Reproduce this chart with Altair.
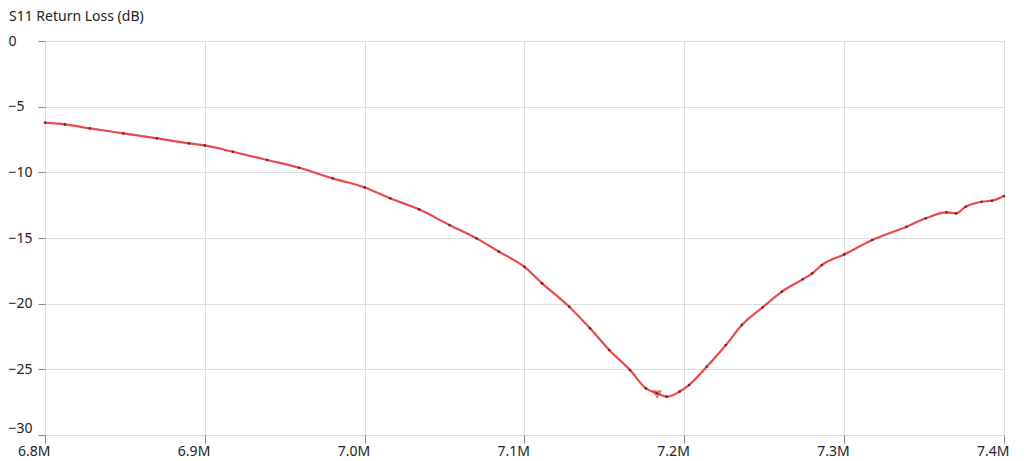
import altair as alt
import pandas as pd

# Frequency (MHz) and S11 return loss (dB)
freq_mhz = [6.800, 6.8125, 6.828, 6.849, 6.870, 6.890, 6.900, 6.9175, 6.939, 6.959,
            6.980, 7.000, 7.016, 7.034, 7.053, 7.070, 7.084, 7.100, 7.111, 7.128,
            7.141, 7.153, 7.166, 7.176, 7.183, 7.189, 7.197, 7.203, 7.214, 7.226,
            7.236, 7.249, 7.261, 7.274, 7.280, 7.286, 7.300, 7.3175, 7.339, 7.351,
            7.364, 7.370, 7.376, 7.386, 7.3925, 7.400]
s11_db = [-6.22, -6.35, -6.65, -7.03, -7.41, -7.79, -7.95, -8.43, -9.06, -9.65,
          -10.46, -11.15, -11.98, -12.82, -14.01, -15.03, -16.04, -17.20, -18.45, -20.23,
          -21.88, -23.53, -25.05, -26.45, -26.83, -27.08, -26.70, -26.19, -24.80, -23.15,
          -21.62, -20.28, -19.09, -18.15, -17.69, -17.06, -16.25, -15.15, -14.14, -13.50,
          -13.05, -13.12, -12.62, -12.24, -12.16, -11.80]

tick_freqs = [6.8, 6.9, 7.0, 7.1, 7.2, 7.3, 7.4]
tick_db = [0, -5, -10, -15, -20, -25, -30]

marker_freq = [7.183]
marker_db = [-26.9]

df = pd.DataFrame({"f": freq_mhz, "db": s11_db})
mk = pd.DataFrame({"f": marker_freq, "db": marker_db})

x = alt.X("f:Q",
          scale=alt.Scale(domain=[6.8, 7.4], nice=False, zero=False),
          axis=alt.Axis(values=tick_freqs, title=None,
                        labelExpr="format(datum.value, '.1f') + 'M'",
                        labelAlign="right", labelOffset=5, tickSize=8,
                        labelPadding=1, domain=False, grid=True,
                        labelFlush=False, labelOverlap=False,
                        labelFont="Noto Sans", labelFontSize=14,
                        labelColor="#222222"))
y = alt.Y("db:Q",
          scale=alt.Scale(domain=[-30, 0], nice=False, zero=False),
          axis=alt.Axis(values=tick_db, title=None, labelAlign="left",
                        labelPadding=30, tickSize=7, domain=False, grid=True,
                        labelBaseline={"condition": {"test": "datum.value == -30",
                                                     "value": "bottom"},
                                       "value": "middle"},
                        labelFlush=False,
                        labelOverlap=False, labelFont="Noto Sans",
                        labelFontSize=14, labelColor="#222222"))

line = alt.Chart(df).mark_line(color="#ea4a4c", strokeWidth=2.2,
                               interpolate="monotone").encode(x=x, y=y)
dots = alt.Chart(df).mark_point(filled=True, size=7, color="#6a1c1c",
                                opacity=0.9).encode(x=x, y=y)
marker = alt.Chart(mk).mark_point(shape="triangle-down", filled=False,
                                  size=55, color="#c82020",
                                  strokeWidth=1.2).encode(x=x, y=y)

chart = (
    alt.layer(line, dots, marker)
    .properties(
        width=959, height=394,
        padding={"left": 37, "top": 33, "right": 5, "bottom": 26},
        autosize="none",
        title=alt.Title("S11 Return Loss (dB)", anchor="start", frame="group",
                        dx=-36, offset=10, font="Noto Sans", fontSize=14,
                        fontWeight="normal", color="#222222"),
    )
    .configure_axis(gridColor="#cccccc", tickColor="#cccccc", gridWidth=1)
    .configure_view(stroke=None)
    .configure(background="white")
)

chart.save("out.html", embed_options={"renderer": "svg", "actions": False})
